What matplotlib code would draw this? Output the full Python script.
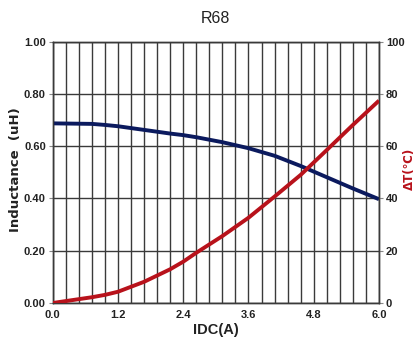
import matplotlib.pyplot as plt
from matplotlib.ticker import MultipleLocator

# values
idc = [0.0, 0.72, 0.96, 1.2, 1.68, 2.16, 2.4, 2.64, 3.12, 3.6, 4.08, 4.56, 5.04, 5.52, 6.0]
inductance = [0.687, 0.685, 0.681, 0.676, 0.662, 0.648, 0.642, 0.634, 0.615, 0.592, 0.563, 0.524, 0.481, 0.438, 0.397]
delta_t = [0.0, 2.2, 3.1, 4.3, 8.1, 12.9, 15.8, 19.2, 25.6, 32.6, 40.7, 49.0, 58.5, 68.1, 77.4]

x_ticks = [0.0, 1.2, 2.4, 3.6, 4.8, 6.0]
l_ticks = [0.0, 0.2, 0.4, 0.6, 0.8, 1.0]
r_ticks = [0, 20, 40, 60, 80, 100]

blue = "#0b1a5e"
red = "#b8121b"
grid_c = "#3a3a3a"
text_c = "#222222"

plt.rcParams['font.family'] = ['Liberation Sans', 'DejaVu Sans']

fig = plt.figure(figsize=(4.19, 3.46), dpi=100)
ax = fig.add_axes([0.1258, 0.1243, 0.7787, 0.7557])
ax2 = ax.twinx()

ax.set_xlim(0, 6)
ax.set_ylim(0, 1)
ax2.set_ylim(0, 100)

ax.xaxis.set_minor_locator(MultipleLocator(0.24))
ax.set_xticks(x_ticks)
ax.set_xticklabels(["%.1f" % v for v in x_ticks])
ax.set_yticks(l_ticks)
ax.set_yticklabels(["%.2f" % v for v in l_ticks])
ax2.set_yticks(r_ticks)
ax2.set_yticklabels([str(v) for v in r_ticks])

ax.grid(True, which="both", axis="x", color=grid_c, lw=1.0)
ax.grid(True, which="major", axis="y", color=grid_c, lw=1.0)
ax.set_axisbelow(True)

ax.tick_params(axis="x", which="both", length=0, pad=5, labelsize=8, colors=text_c)
ax.tick_params(axis="y", length=3, pad=2, labelsize=8, colors=text_c, color="#888888")
ax2.tick_params(axis="y", length=3, pad=2, labelsize=8, colors=text_c, color="#888888")
for lbl in ax.get_xticklabels() + ax.get_yticklabels() + ax2.get_yticklabels():
    lbl.set_fontweight("bold")

for a in (ax, ax2):
    for s in a.spines.values():
        s.set_color(grid_c)
        s.set_linewidth(1.0)

ax.plot(idc, inductance, color=blue, lw=2.8, solid_capstyle="butt", zorder=3)
ax2.plot(idc, delta_t, color=red, lw=2.8, solid_capstyle="butt", zorder=3)

ax.set_title("R68", fontsize=11.5, pad=13, color=text_c)
ax.set_xlabel("IDC(A)", fontsize=10.5, fontweight="bold", labelpad=2, color=text_c)
fig.text(15 / 419, 1 - 170 / 346, "Inductance  (uH)", rotation=90, ha="center", va="center",
         fontsize=9.5, fontweight="bold", color=text_c, family=["DejaVu Sans"])
fig.text(409 / 419, 1 - 169 / 346, "ΔT(℃)", rotation=90, ha="center", va="center",
         fontsize=8.5, fontweight="bold", color=red, family=["DejaVu Sans"])

fig.savefig("out.png", dpi=100)
